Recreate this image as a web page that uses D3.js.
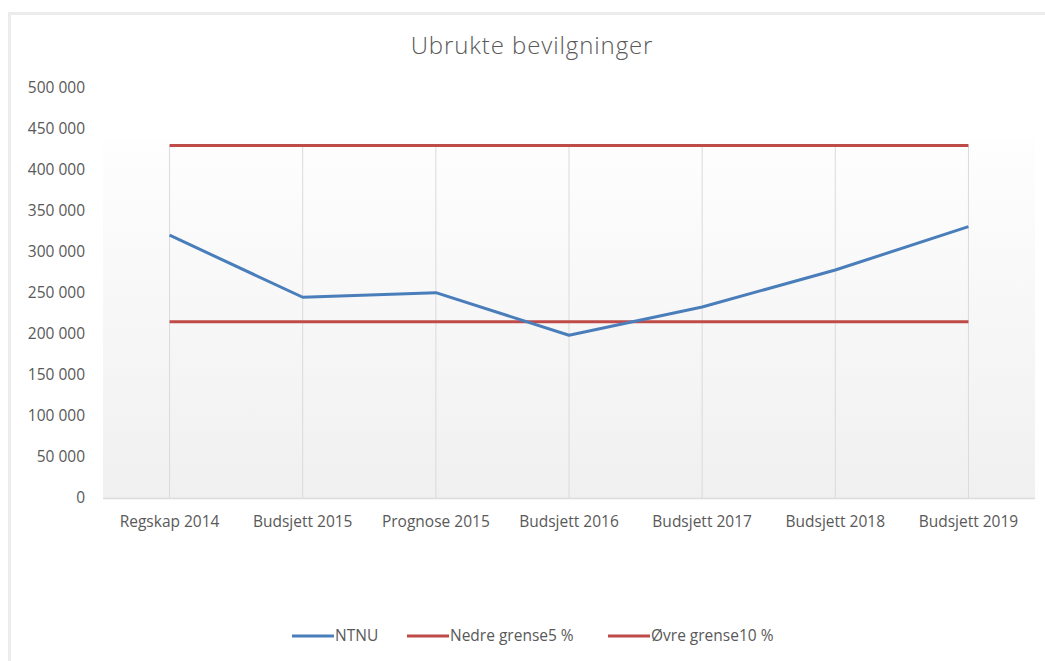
<!DOCTYPE html>
<html>
<head>
<meta charset="utf-8">
<script src="https://cdn.jsdelivr.net/npm/d3@7"></script>
<style>
  body { margin: 0; background: #fff; }
  text { font-family: "Open Sans", sans-serif; fill: #595959; }
</style>
</head>
<body>
<svg id="chart" width="1045" height="661"></svg>
<script>
// chart data
const categories = ["Regskap 2014", "Budsjett 2015", "Prognose 2015", "Budsjett 2016",
  "Budsjett 2017", "Budsjett 2018", "Budsjett 2019"];
const ntnu = [320500, 244800, 250400, 198500, 233000, 278000, 331000];
const nedre = [215000, 215000, 215000, 215000, 215000, 215000, 215000];
const ovre = [430000, 430000, 430000, 430000, 430000, 430000, 430000];
const yTicks = [0, 50000, 100000, 150000, 200000, 250000, 300000, 350000, 400000, 450000, 500000];

const series = [
  { name: "NTNU", values: ntnu, color: "#4a7ebb" },
  { name: "Nedre grense5 %", values: nedre, color: "#be4b48" },
  { name: "Øvre grense10 %", values: ovre, color: "#be4b48" }
];

const svg = d3.select("#chart");
const plot = { left: 103, right: 1035, top: 88, bottom: 498 };

const x = d3.scalePoint().domain(categories).range([plot.left, plot.right]).padding(0.5);
const y = d3.scaleLinear().domain([0, 500000]).range([plot.bottom, plot.top]);

// chart frame
svg.append("rect")
  .attr("x", 9.5).attr("y", 13.5)
  .attr("width", 1060).attr("height", 700)
  .attr("fill", "none")
  .attr("stroke", "#ececec")
  .attr("stroke-width", 3);

// plot area gradient
const grad = svg.append("defs").append("linearGradient")
  .attr("id", "bg").attr("x1", 0).attr("y1", 0).attr("x2", 0).attr("y2", 1);
grad.append("stop").attr("offset", "0%").attr("stop-color", "#fefefe");
grad.append("stop").attr("offset", "100%").attr("stop-color", "#f0f0f0");

svg.append("rect")
  .attr("x", plot.left).attr("y", 137)
  .attr("width", plot.right - plot.left).attr("height", plot.bottom - 137)
  .attr("fill", "url(#bg)");

// title
svg.append("text")
  .attr("x", 532).attr("y", 54)
  .attr("text-anchor", "middle")
  .style("font-size", "24px")
  .style("font-weight", 300)
  .style("letter-spacing", "0.9px")
  .text("Ubrukte bevilgninger");

// y axis labels
svg.append("g").selectAll("text")
  .data(yTicks)
  .enter()
  .append("text")
  .attr("x", 85)
  .attr("y", d => y(d) + 5)
  .attr("text-anchor", "end")
  .style("font-size", "15.5px")
  .text(d => d3.format(",")(d).replace(/,/g, " "));

// drop lines from the top value to the axis
svg.append("g").selectAll("line")
  .data(categories)
  .enter()
  .append("line")
  .attr("x1", d => x(d)).attr("x2", d => x(d))
  .attr("y1", (d, i) => y(d3.max(series, s => s.values[i])))
  .attr("y2", plot.bottom)
  .attr("stroke", "#dadada")
  .attr("stroke-width", 1);

// category axis line
svg.append("line")
  .attr("x1", plot.left).attr("x2", plot.right)
  .attr("y1", plot.bottom + 0.5).attr("y2", plot.bottom + 0.5)
  .attr("stroke", "#dcdcdc")
  .attr("stroke-width", 1.5);

// x labels
svg.append("g").selectAll("text")
  .data(categories)
  .enter()
  .append("text")
  .attr("x", d => x(d))
  .attr("y", 527)
  .attr("text-anchor", "middle")
  .style("font-size", "15.5px")
  .text(d => d);

// series lines
const line = d3.line()
  .x((d, i) => x(categories[i]))
  .y(d => y(d));

svg.append("g").selectAll("path")
  .data(series.slice().reverse())
  .enter()
  .append("path")
  .attr("d", d => line(d.values))
  .attr("fill", "none")
  .attr("stroke", d => d.color)
  .attr("stroke-width", 3)
  .attr("stroke-linejoin", "round");

// legend
const legendX = [292, 407, 608];
const legend = svg.append("g").selectAll("g")
  .data(series)
  .enter()
  .append("g")
  .attr("transform", (d, i) => `translate(${legendX[i]},636)`);

legend.append("line")
  .attr("x1", 0).attr("x2", 42)
  .attr("stroke", d => d.color)
  .attr("stroke-width", 3);

legend.append("text")
  .attr("x", 43).attr("y", 5)
  .style("font-size", "15.5px")
  .text(d => d.name);
</script>
</body>
</html>
